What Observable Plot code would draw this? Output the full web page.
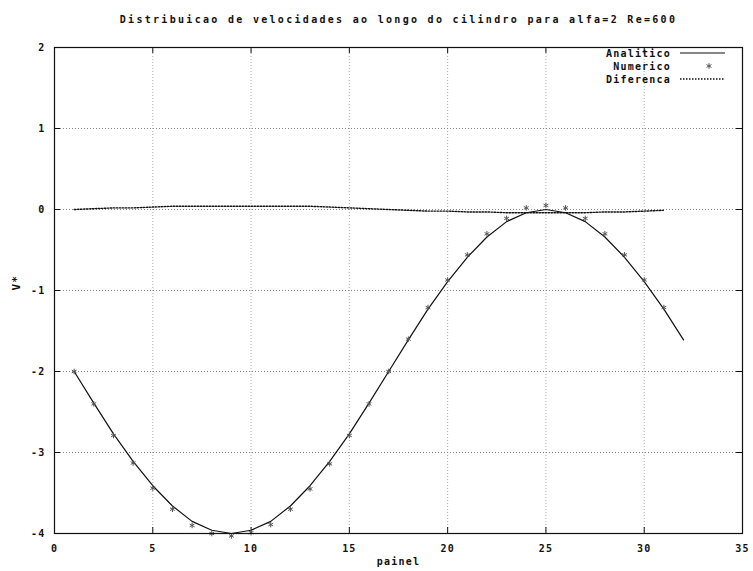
<!DOCTYPE html>
<html>
<head>
<meta charset="utf-8">
<script src="https://cdn.jsdelivr.net/npm/d3@7"></script>
<script src="https://cdn.jsdelivr.net/npm/@observablehq/plot@0.6"></script>
<style>
  html, body { margin: 0; padding: 0; background: #fff; }
  #chart svg text { letter-spacing: 1.2px; }
</style>
</head>
<body>
<div id="chart"></div>
<script>
const title = "Distribuicao de velocidades ao longo do cilindro para alfa=2 Re=600";
const xLabel = "painel";
const yLabel = "V*";
const xTicks = [0, 5, 10, 15, 20, 25, 30, 35];
const yTicks = [-4, -3, -2, -1, 0, 1, 2];
const legendLabels = ["Analitico", "Numerico", "Diferenca"];

const panel = [1,2,3,4,5,6,7,8,9,10,11,12,13,14,15,16,17,18,19,20,21,22,23,24,25,26,27,28,29,30,31,32];
const analitico = [-2.00,-2.39,-2.77,-3.11,-3.41,-3.66,-3.85,-3.96,-4.00,-3.96,-3.85,-3.66,-3.41,-3.11,-2.77,-2.39,
                   -2.00,-1.61,-1.23,-0.89,-0.59,-0.34,-0.15,-0.04,0.00,-0.04,-0.15,-0.34,-0.59,-0.89,-1.23,-1.61];
const numPanel = [1,2,3,4,5,6,7,8,9,10,11,12,13,14,15,16,17,18,19,20,21,22,23,24,25,26,27,28,29,30,31];
const numerico = [-2.00,-2.40,-2.79,-3.13,-3.44,-3.70,-3.90,-4.00,-4.03,-3.99,-3.89,-3.70,-3.45,-3.14,-2.79,-2.40,
                  -2.00,-1.60,-1.21,-0.87,-0.56,-0.30,-0.11,0.02,0.05,0.02,-0.11,-0.30,-0.56,-0.87,-1.21];
const diferenca = [0.00,0.01,0.02,0.02,0.03,0.04,0.04,0.04,0.04,0.04,0.04,0.04,0.04,0.03,0.02,0.01,
                   0.00,-0.01,-0.02,-0.02,-0.03,-0.03,-0.04,-0.04,-0.04,-0.04,-0.04,-0.03,-0.03,-0.02,-0.01];

const anaData = panel.map((p, i) => ({x: p, y: analitico[i]}));
const numData = numPanel.map((p, i) => ({x: p, y: numerico[i]}));
const difData = numPanel.map((p, i) => ({x: p, y: diferenca[i]}));

const W = 753, H = 571;
const mL = 54, mR = 11, mT = 47, mB = 38;
const plotH = H - mT - mB, plotW = W - mL - mR;
const font = "'DejaVu Sans Mono', monospace";

function legend(index, scales, values, dims) {
  const right = dims.width - dims.marginRight;
  const g = d3.create("svg:g")
    .attr("font-family", font).attr("font-size", 10).attr("font-weight", "bold");
  legendLabels.forEach((lab, i) => {
    const y = dims.marginTop + 6 + 13 * i;
    g.append("text").attr("x", right - 71).attr("y", y).attr("dy", "0.35em")
      .attr("text-anchor", "end").attr("fill", "#111").text(lab);
    if (i === 0) {
      g.append("line").attr("x1", right - 62).attr("x2", right - 17).attr("y1", y).attr("y2", y)
        .attr("stroke", "#111").attr("stroke-width", 1.2);
    } else if (i === 1) {
      g.append("path").attr("transform", `translate(${right - 33},${y})`)
        .attr("d", d3.symbol(d3.symbolAsterisk, 22)()).attr("stroke", "#555").attr("fill", "none");
    } else {
      g.append("line").attr("x1", right - 62).attr("x2", right - 17).attr("y1", y).attr("y2", y)
        .attr("stroke", "#111").attr("stroke-width", 1.3).attr("stroke-dasharray", "1.5,1.5");
    }
  });
  return g.node();
}

const chart = Plot.plot({
  width: W, height: H,
  marginLeft: mL, marginRight: mR, marginTop: mT, marginBottom: mB,
  style: {fontFamily: font, fontSize: "10px", fontWeight: "bold", color: "#111", background: "#fff"},
  x: {domain: [0, 35], ticks: xTicks},
  y: {domain: [-4, 2], ticks: yTicks},
  marks: [
    Plot.ruleX(xTicks.slice(1, -1), {x: d => d, stroke: "#aaa", strokeDasharray: "1,2"}),
    Plot.ruleY(yTicks.slice(1, -1), {y: d => d, stroke: "#888", strokeDasharray: "1,2"}),
    Plot.ruleX(xTicks, {x: d => d, insetTop: plotH - 6, stroke: "#111"}),
    Plot.ruleX(xTicks, {x: d => d, insetBottom: plotH - 6, stroke: "#111"}),
    Plot.ruleY(yTicks, {y: d => d, insetRight: plotW - 6, stroke: "#111"}),
    Plot.ruleY(yTicks, {y: d => d, insetLeft: plotW - 6, stroke: "#111"}),
    Plot.axisX(xTicks, {tickSize: 0, tickPadding: 11, label: null, fontSize: 10, fontWeight: "bold", tickFormat: d => String(d)}),
    Plot.axisY(yTicks, {tickSize: 0, tickPadding: 9, label: null, fontSize: 10, fontWeight: "bold", tickFormat: d => String(d)}),
    Plot.line(difData, {x: "x", y: "y", stroke: "#111", strokeWidth: 1.4, strokeDasharray: "1.5,1.5"}),
    Plot.line(anaData, {x: "x", y: "y", stroke: "#111", strokeWidth: 1.2}),
    Plot.dot(numData, {x: "x", y: "y", symbol: "asterisk", r: 2.6, stroke: "#555", strokeWidth: 1}),
    Plot.frame({stroke: "#111", strokeWidth: 1.2}),
    Plot.text([title], {frameAnchor: "top", dy: -32, text: d => d, fontSize: 10, fontWeight: "bold", fill: "#111"}),
    Plot.text([xLabel], {frameAnchor: "bottom", dy: 31, text: d => d, fontSize: 10, fontWeight: "bold", fill: "#111"}),
    Plot.text([yLabel], {frameAnchor: "left", dx: -38, rotate: -90, text: d => d, fontSize: 11, fontWeight: "bold", fill: "#111"}),
    legend
  ]
});
d3.select(chart).selectAll("text")
  .filter(function() { return this.textContent === title; })
  .style("letter-spacing", "2.3px");
document.getElementById("chart").appendChild(chart);
</script>
</body>
</html>
